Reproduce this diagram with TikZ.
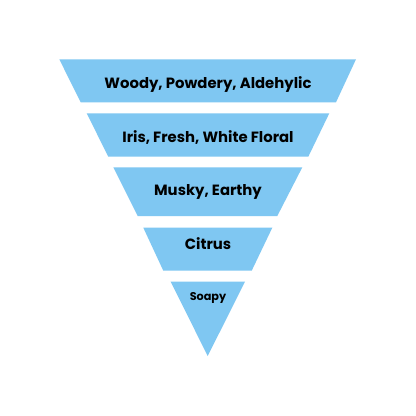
\documentclass[tikz,border=0pt]{standalone}
\usepackage{fontspec}
\setmainfont{Poppins}
\definecolor{layerblue}{RGB}{127,199,242}
\begin{document}
\begin{tikzpicture}[x=1bp,y=-1bp,
  layer/.style={fill=layerblue,draw=none},
  lbl/.style={font=\bfseries\fontsize{14.9}{17}\selectfont,text=black,inner sep=0pt,anchor=base}]
\useasboundingbox (0,0) rectangle (416,416);
\fill[white] (0,0) rectangle (416,416);
\path[layer] (59.3,59.3) -- (356,59.3) -- (336,102.3) -- (80.7,102.3) -- cycle;
\path[layer] (86.7,113.3) -- (329.3,113.3) -- (308.3,156.7) -- (108.3,156.7) -- cycle;
\path[layer] (113.3,167.3) -- (302.3,167.3) -- (277.3,216) -- (137.7,216) -- cycle;
\path[layer] (143.3,227.7) -- (272.3,227.7) -- (251.7,270.7) -- (163.3,270.7) -- cycle;
\path[layer] (170.7,281.7) -- (245,281.7) -- (207.7,356) -- cycle;
\node[lbl] (l1) at (208,88.3) {Woody, Powdery, Aldehylic};
\node[lbl] (l2) at (208,142.3) {Iris, Fresh, White Floral};
\node[lbl] (l3) at (208,195.3) {Musky, Earthy};
\node[lbl] (l4) at (208,249) {Citrus};
\node[lbl,font=\bfseries\fontsize{11.3}{13}\selectfont] (l5) at (208,300.3) {Soapy};
\end{tikzpicture}
\end{document}
